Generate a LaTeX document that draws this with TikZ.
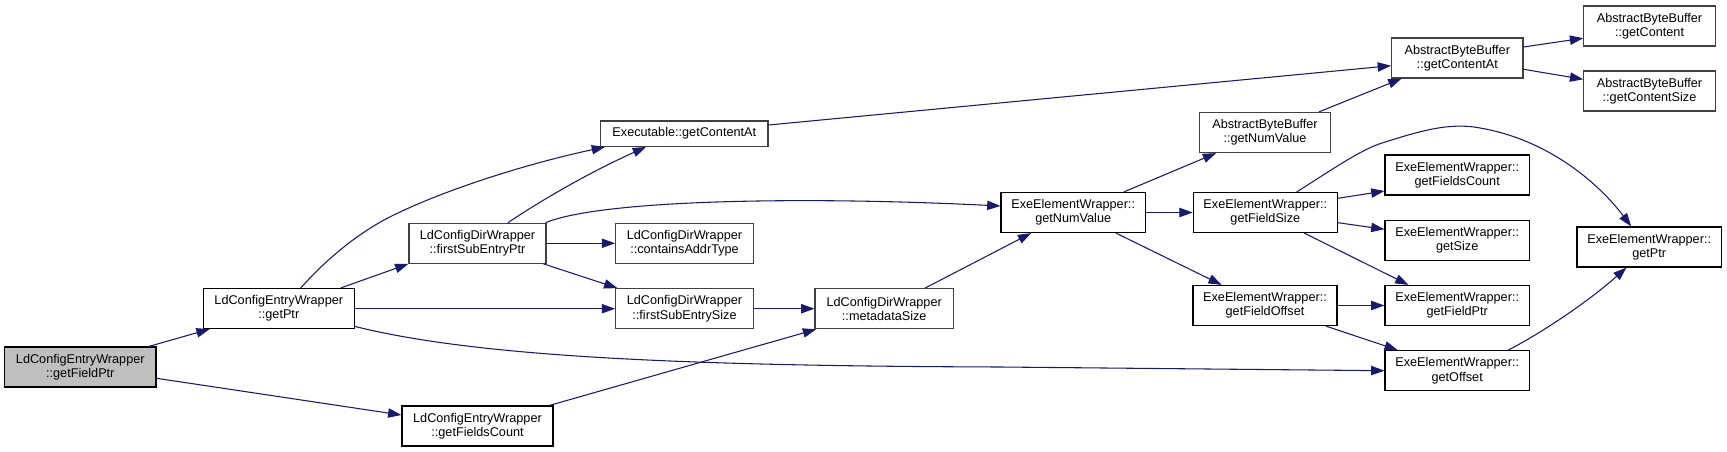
\documentclass[tikz,border=0pt]{standalone}
\usepackage{fontspec}
\setmainfont{Liberation Sans}
\usetikzlibrary{arrows.meta,calc}
\definecolor{edgeblue}{HTML}{191970}
\definecolor{nodegray}{HTML}{BFBFBF}
\definecolor{darkborder}{HTML}{404040}
\begin{document}
\begin{tikzpicture}[x=0.75pt,y=-0.75pt,
  fn/.style={draw=black,line width=0.9pt,fill=white,inner sep=0pt,align=center,
    font=\fontsize{9.5pt}{10.6pt}\selectfont,minimum height=30pt},
  fngray/.style={fn,draw=darkborder},
  call/.style={draw=edgeblue,line width=0.8pt,-{Triangle[length=10pt,width=7pt]}}
]
\useasboundingbox (0,0) rectangle (1727,452);

% nodes
\node[fn,fill=nodegray,minimum width=113.5pt] (n1) at (80.3,367) {LdConfigEntryWrapper\\::getFieldPtr};
\node[fn,minimum width=113.25pt] (n2) at (278.8,308.5) {LdConfigEntryWrapper\\::getPtr};
\node[fngray,minimum width=102.75pt] (n3) at (477.5,243.3) {LdConfigDirWrapper\\::firstSubEntryPtr};
\node[fn,minimum width=113.25pt] (n4) at (477.5,426) {LdConfigEntryWrapper\\::getFieldsCount};
\node[fngray,minimum width=125.5pt,minimum height=19pt] (n5) at (684.3,133.7) {Executable::getContentAt};
\node[fngray,minimum width=103.2pt] (n6) at (684.5,243.3) {LdConfigDirWrapper\\::containsAddrType};
\node[fngray,minimum width=103.2pt] (n7) at (684.5,308.7) {LdConfigDirWrapper\\::firstSubEntrySize};
\node[fngray,minimum width=103.7pt] (n8) at (884.2,308.7) {LdConfigDirWrapper\\::metadataSize};
\node[fn,minimum width=108.2pt] (n9) at (1073.2,212.5) {ExeElementWrapper::\\getNumValue};
\node[fngray,minimum width=98.5pt] (n10) at (1265,132.5) {AbstractByteBuffer\\::getNumValue};
\node[fngray,minimum width=98.5pt] (n11) at (1457.3,58) {AbstractByteBuffer\\::getContentAt};
\node[fngray,minimum width=98.5pt] (n12) at (1649.5,26) {AbstractByteBuffer\\::getContent};
\node[fngray,minimum width=98.5pt] (n13) at (1649.5,91) {AbstractByteBuffer\\::getContentSize};
\node[fn,minimum width=108pt] (n14) at (1265.3,212.5) {ExeElementWrapper::\\getFieldSize};
\node[fn,minimum width=108.2pt] (n15) at (1457.2,175) {ExeElementWrapper::\\getFieldsCount};
\node[fn,minimum width=108.2pt] (n16) at (1457.2,240.3) {ExeElementWrapper::\\getSize};
\node[fn,minimum width=108.2pt] (n17) at (1457.2,305.5) {ExeElementWrapper::\\getFieldPtr};
\node[fn,minimum width=108pt] (n18) at (1265,305.5) {ExeElementWrapper::\\getFieldOffset};
\node[fn,minimum width=108.2pt] (n19) at (1457.2,370.7) {ExeElementWrapper::\\getOffset};
\node[fn,minimum width=108.2pt] (n20) at (1649.2,247) {ExeElementWrapper::\\getPtr};

% edges
\draw[call] ($(n1.north west)+(145,0)$) -- ($(n2.south west)+(7,0)$);
\draw[call] ($(n1.east)+(0,11.3)$) -- ($(n4.west)+(0,-11)$);
\draw[call] ($(n2.north)+(22,0)$) .. controls (330,255) and (365,228) .. (398,213)
   .. controls (450,188) and (530,163) .. ($(n5.south west)+(5,0)$);
\draw[call] ($(n3.north)+(30.5,0)$) .. controls (540,201) and (590,172) .. ($(n5.south west)+(46,0)$);
\draw[call] ($(n3.north east)+(-1,0)$) .. controls (600,200) and (800,196) .. ($(n9.west)+(0,-6.5)$);
\draw[call] (n3.east) -- (n6.west);
\draw[call] ($(n3.south east)+(-3,0)$) -- ($(n7.north west)+(2.3,0)$);
\draw[call] ($(n2.north east)+(-14,0)$) -- (n3.south west);
\draw[call] (n2.east |- n7.west) -- (n7.west);
\draw[call] ($(n2.south east)+(0,-2.7)$) .. controls (480,358) and (700,366) .. (1000,367) -- (n19.west);
\draw[call] (n7.east) -- (n8.west);
\draw[call] ($(n4.north east)+(-4,0)$) -- ($(n8.south west)+(1.7,0)$);
\draw[call] ($(n8.north)+(40.8,0)$) -- ($(n9.south west)+(30.7,0)$);
\draw[call] ($(n9.north east)+(-22,0)$) -- ($(n10.south west)+(17.4,0)$);
\draw[call] (n9.east) -- (n14.west);
\draw[call] ($(n9.south east)+(-30,0)$) -- ($(n18.north west)+(29.3,0)$);
\draw[call] ($(n5.east)+(0,-8.7)$) -- ($(n11.west)+(0,7.7)$);
\draw[call] ($(n10.north east)+(-12.4,0)$) -- ($(n11.south west)+(10.5,0)$);
\draw[call] ($(n11.east)+(0,-11)$) -- ($(n12.west)+(0,12.2)$);
\draw[call] ($(n11.east)+(0,11.3)$) -- ($(n13.west)+(0,-11.7)$);
\draw[call] ($(n14.north)+(31.4,0)$) .. controls (1330,171) and (1360,150) .. (1382,143)
   .. controls (1420,131) and (1450,122) .. (1480,128)
   .. controls (1550,140) and (1600,185) .. ($(n20.north west)+(54.7,0)$);
\draw[call] ($(n14.east)+(0,-14.2)$) -- ($(n15.west)+(0,16)$);
\draw[call] ($(n14.east)+(0,10.2)$) -- ($(n16.west)+(0,-11)$);
\draw[call] ($(n14.south)+(39,0)$) -- ($(n17.north west)+(24,0)$);
\draw[call] (n18.east) -- (n17.west);
\draw[call] ($(n18.south east)+(-11.7,0)$) -- ($(n19.north west)+(13.3,0)$);
\draw[call] ($(n19.north east)+(-21.7,0)$) .. controls (1545,331) and (1590,300) .. ($(n20.south west)+(50,0)$);
\end{tikzpicture}
\end{document}
